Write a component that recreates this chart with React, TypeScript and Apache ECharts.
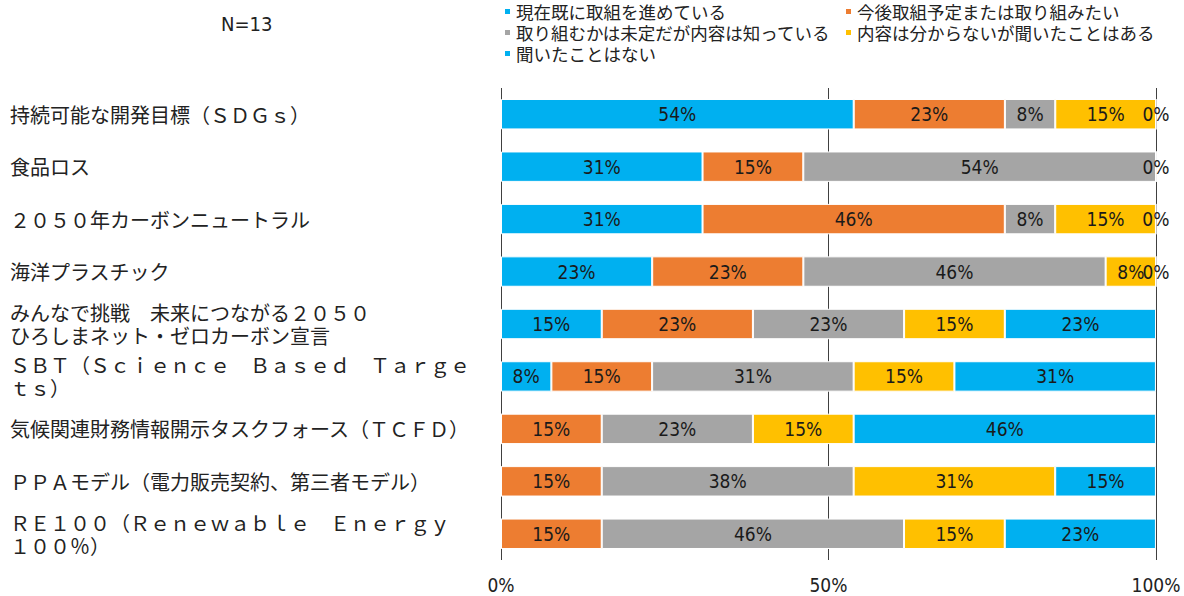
import React, { useEffect, useRef } from "react";
import * as echarts from "echarts";

const categories = [
  "持続可能な開発目標（ＳＤＧｓ）",
  "食品ロス",
  "２０５０年カーボンニュートラル",
  "海洋プラスチック",
  "みんなで挑戦　未来につながる２０５０\nひろしまネット・ゼロカーボン宣言",
  "ＳＢＴ（Ｓｃｉｅｎｃｅ　Ｂａｓｅｄ　Ｔａｒｇｅ\nｔｓ）",
  "気候関連財務情報開示タスクフォース（ＴＣＦＤ）",
  "ＰＰＡモデル（電力販売契約、第三者モデル）",
  "ＲＥ１００（Ｒｅｎｅｗａｂｌｅ　Ｅｎｅｒｇｙ\n１００％）",
];

const seriesNames = [
  "現在既に取組を進めている",
  "今後取組予定または取り組みたい",
  "取り組むかは未定だが内容は知っている",
  "内容は分からないが聞いたことはある",
  "聞いたことはない",
];

const doingNow = [53.85, 30.77, 30.77, 23.08, 15.38, 7.69, 0, 0, 0];
const planning = [23.08, 15.38, 46.15, 23.08, 23.08, 15.38, 15.38, 15.38, 15.38];
const undecided = [7.69, 53.85, 7.69, 46.15, 23.08, 30.77, 23.08, 38.46, 46.15];
const heardOnly = [15.38, 0, 15.38, 7.69, 15.38, 15.38, 15.38, 30.77, 15.38];
const neverHeard = [0, 0, 0, 0, 23.08, 30.77, 46.15, 15.38, 23.08];

const seriesValues = [doingNow, planning, undecided, heardOnly, neverHeard];
const colors = ["#00B0F0", "#ED7D31", "#A5A5A5", "#FFC000", "#00B0F0"];

const xTicks = [0, 50, 100];

const jpFont = "'Noto Sans CJK JP', 'Noto Sans', sans-serif";
const narrowFont = "'Liberation Sans Narrow', 'DejaVu Sans Condensed', 'Roboto', sans-serif";

export default function App() {
  const ref = useRef<HTMLDivElement>(null);
  useEffect(() => {
    document.body.style.margin = "0";
    if (!ref.current) return;
    const chart = echarts.init(ref.current, null, { renderer: "svg" });
    const lastIdx = seriesValues.length - 1;
    const legendBase = {
      orient: "vertical",
      top: 1,
      icon: "rect",
      itemWidth: 7,
      itemHeight: 7,
      itemGap: 0,
      padding: 0,
      textStyle: { fontSize: 17.5, lineHeight: 21, fontFamily: jpFont, color: "#222" },
    };
    chart.setOption({
      animation: false,
      title: {
        text: "N=13",
        left: 221,
        top: 14,
        padding: 0,
        textStyle: { fontSize: 20, fontWeight: "normal", fontFamily: narrowFont, color: "#222" },
      },
      legend: [
        { ...legendBase, left: 503, data: [seriesNames[0], seriesNames[2], seriesNames[4]] },
        { ...legendBase, left: 844, data: [seriesNames[1], seriesNames[3]] },
      ],
      grid: { left: 501, right: 28, top: 88, bottom: 36, outerBoundsMode: "none" },
      xAxis: {
        type: "value",
        min: xTicks[0],
        max: xTicks[xTicks.length - 1],
        interval: 50,
        axisLine: { show: false },
        axisTick: { show: false },
        splitLine: { show: true, lineStyle: { color: "#404040", width: 1 } },
        axisLabel: {
          formatter: "{value}%",
          fontSize: 19,
          fontFamily: narrowFont,
          color: "#222",
          margin: 15,
        },
      },
      yAxis: {
        type: "category",
        data: categories,
        inverse: true,
        axisLine: { show: false },
        axisTick: { show: false },
        axisLabel: {
          align: "left",
          margin: 491,
          fontSize: 20,
          lineHeight: 23,
          fontFamily: jpFont,
          color: "#222",
        },
      },
      series: seriesValues.map((vals, i) => ({
        name: seriesNames[i],
        type: "bar",
        stack: "total",
        data: vals,
        barWidth: "58%",
        itemStyle: { color: colors[i], borderColor: "#fff", borderWidth: 1 },
        label: {
          show: true,
          position: "inside",
          fontSize: 19,
          fontFamily: narrowFont,
          color: "#1a1a1a",
          formatter: (p: any) => {
            const v = p.value as number;
            if (v === 0 && p.seriesIndex !== lastIdx) return "";
            return Math.round(v) + "%";
          },
        },
      })),
    });
    return () => chart.dispose();
  }, []);
  return <div ref={ref} style={{ width: 1184, height: 596 }} />;
}
